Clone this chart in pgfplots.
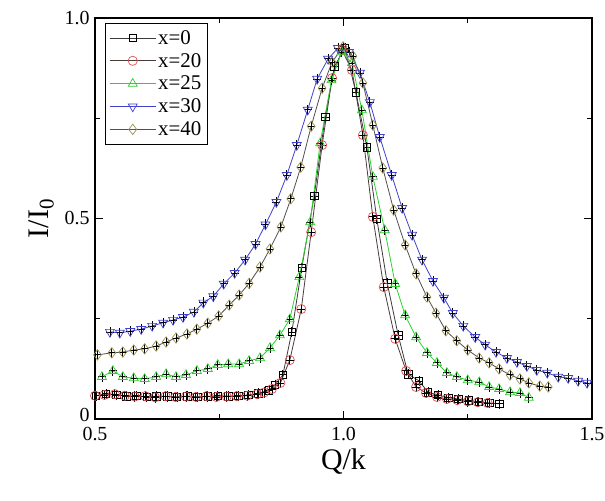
\documentclass[border=0pt]{standalone}
\usepackage{fontspec}
\setmainfont{Liberation Serif}
\usepackage{pgfplots}
\usepackage{pgfplotstable}
\pgfplotsset{compat=1.18}
\definecolor{lzero}{HTML}{3A3A3A}
\definecolor{ltwenty}{HTML}{4A3A3A}
\definecolor{mred}{HTML}{E05050}
\definecolor{lgreen}{HTML}{30D030}
\definecolor{lblue}{HTML}{4040C8}
\definecolor{lgray}{HTML}{505050}
\definecolor{molive}{HTML}{9A9050}
\definecolor{fkhaki}{HTML}{C8C4A4}

\pgfplotstableread{
Q I
0.502 0.058
0.522 0.063
0.543 0.060
0.563 0.057
0.583 0.058
0.604 0.055
0.624 0.057
0.645 0.056
0.665 0.055
0.686 0.057
0.706 0.055
0.727 0.056
0.747 0.058
0.768 0.057
0.788 0.058
0.809 0.060
0.829 0.064
0.850 0.072
0.862 0.085
0.878 0.110
0.896 0.217
0.916 0.377
0.941 0.556
0.963 0.753
0.982 0.880
1.003 0.925
1.025 0.815
1.047 0.678
1.067 0.499
1.088 0.339
1.110 0.209
1.130 0.112
1.152 0.095
1.170 0.067
1.190 0.060
1.211 0.053
1.231 0.050
1.252 0.046
1.272 0.043
1.293 0.040
1.313 0.038
}\tzero

\pgfplotstableread{
Q I
0.500 0.058
0.519 0.060
0.540 0.062
0.560 0.058
0.580 0.056
0.601 0.057
0.621 0.054
0.642 0.057
0.662 0.055
0.683 0.056
0.703 0.055
0.724 0.057
0.744 0.055
0.765 0.056
0.785 0.057
0.806 0.058
0.826 0.062
0.840 0.066
0.856 0.075
0.873 0.090
0.892 0.147
0.915 0.274
0.935 0.466
0.957 0.683
0.977 0.850
0.997 0.920
1.017 0.870
1.039 0.708
1.059 0.504
1.081 0.329
1.104 0.200
1.126 0.120
1.146 0.080
1.166 0.065
1.188 0.055
1.208 0.050
1.229 0.047
1.250 0.044
1.270 0.042
1.290 0.040
}\ttwenty

\pgfplotstableread{
Q I
0.514 0.105
0.536 0.120
0.556 0.105
0.578 0.102
0.600 0.100
0.623 0.105
0.643 0.112
0.663 0.105
0.683 0.110
0.705 0.120
0.727 0.125
0.747 0.135
0.768 0.137
0.790 0.137
0.810 0.145
0.832 0.152
0.852 0.177
0.872 0.209
0.892 0.249
0.911 0.354
0.933 0.491
0.953 0.688
0.976 0.845
0.996 0.915
1.017 0.888
1.037 0.770
1.059 0.604
1.083 0.471
1.104 0.337
1.124 0.259
1.146 0.204
1.168 0.165
1.188 0.140
1.208 0.115
1.228 0.105
1.250 0.097
1.273 0.092
1.293 0.080
1.313 0.075
1.335 0.067
1.355 0.065
1.373 0.053
}\ttwentyfive

\pgfplotstableread{
Q I
0.530 0.217
0.550 0.215
0.571 0.219
0.593 0.224
0.615 0.232
0.637 0.240
0.657 0.247
0.677 0.254
0.699 0.267
0.718 0.290
0.738 0.306
0.759 0.337
0.781 0.364
0.802 0.397
0.823 0.436
0.843 0.485
0.865 0.541
0.886 0.608
0.906 0.683
0.928 0.771
0.947 0.848
0.969 0.898
0.989 0.925
1.011 0.915
1.033 0.863
1.053 0.790
1.073 0.703
1.097 0.608
1.118 0.526
1.138 0.459
1.158 0.397
1.180 0.344
1.202 0.302
1.220 0.264
1.241 0.232
1.265 0.204
1.285 0.185
1.307 0.167
1.329 0.152
1.349 0.142
1.369 0.132
1.389 0.122
1.410 0.115
1.432 0.105
1.452 0.102
1.472 0.095
1.490 0.090
}\tthirty

\pgfplotstableread{
Q I
0.505 0.160
0.534 0.165
0.556 0.167
0.578 0.172
0.600 0.175
0.623 0.182
0.643 0.192
0.663 0.202
0.685 0.212
0.705 0.224
0.727 0.239
0.749 0.257
0.770 0.284
0.790 0.309
0.810 0.338
0.832 0.379
0.852 0.424
0.874 0.479
0.894 0.549
0.914 0.628
0.935 0.730
0.957 0.825
0.977 0.890
0.999 0.928
1.019 0.905
1.039 0.838
1.059 0.733
1.079 0.626
1.101 0.521
1.124 0.434
1.146 0.362
1.168 0.304
1.186 0.264
1.206 0.220
1.228 0.195
1.250 0.172
1.273 0.152
1.293 0.140
1.313 0.125
1.335 0.110
1.355 0.100
1.373 0.090
1.395 0.082
1.412 0.080
}\tforty

\begin{document}
\begin{tikzpicture}
\useasboundingbox (-95bp,-82bp) rectangle (510bp,419bp);
\begin{axis}[
  scale only axis, width=497bp, height=401bp,
  xmin=0.5, xmax=1.5, ymin=0, ymax=1,
  xtick={0.5,1.0,1.5}, minor xtick={0.75,1.25},
  ytick={0,0.5,1}, minor ytick={0.25,0.75},
  xticklabels={0.5,1.0,1.5}, yticklabels={\raisebox{8bp}{0},0.5,1.0},
  tick align=inside, tick pos=both,
  major tick length=8bp, minor tick length=5bp,
  axis line style={line width=1.3bp},
  every tick/.style={black, line width=1bp},
  tick label style={font=\fontsize{20}{23}\selectfont},
  xticklabel style={yshift=-5bp},
  yticklabel style={xshift=-2bp},
  xlabel={Q/k}, ylabel={I/I\textsubscript{0}},
  label style={font=\fontsize{30}{34}\selectfont},
  xlabel shift=1bp, ylabel shift=4bp,
  legend style={at={(axis description cs:0.02,0.988)}, anchor=north west,
    draw=black, line width=0.8bp, font=\fontsize{21}{23}\selectfont,
    row sep=3.5bp, inner xsep=4bp, inner ysep=5bp, cells={anchor=west}},
  legend image code/.code={\draw[mark repeat=2,mark phase=2] plot coordinates {(0bp,0bp)(23bp,0bp)(46bp,0bp)};},
  every axis plot/.append style={line width=0.8bp},
  ebar/.style={error bars/.cd, x dir=both, x fixed=0.008, y dir=both, y fixed=0.013,
    error mark=none, error bar style={black, line width=0.8bp}},
]
\addplot[color=lzero, mark=square, mark size=3.8bp, mark options={draw=black, fill=white, line width=0.7bp}, ebar] table[x=Q,y=I] {\tzero};
\addlegendentry{x=0}
\addplot[color=ltwenty, mark=o, mark size=4.6bp, mark options={draw=mred, fill=white, line width=0.7bp}, ebar] table[x=Q,y=I] {\ttwenty};
\addlegendentry{x=20}
\addplot[color=lgreen, mark=triangle, mark size=5.2bp, mark options={draw=lgreen, fill=white, line width=0.7bp}, ebar] table[x=Q,y=I] {\ttwentyfive};
\addlegendentry{x=25}
\addplot[color=lblue, mark=triangle, mark size=5.2bp, mark options={draw=lblue, fill=white, rotate=180, line width=0.7bp}, ebar] table[x=Q,y=I] {\tthirty};
\addlegendentry{x=30}
\addplot[color=lgray, mark=diamond, mark size=5.2bp, mark options={draw=molive, fill=fkhaki, line width=0.7bp}, ebar] table[x=Q,y=I] {\tforty};
\addlegendentry{x=40}
\end{axis}
\end{tikzpicture}
\end{document}
